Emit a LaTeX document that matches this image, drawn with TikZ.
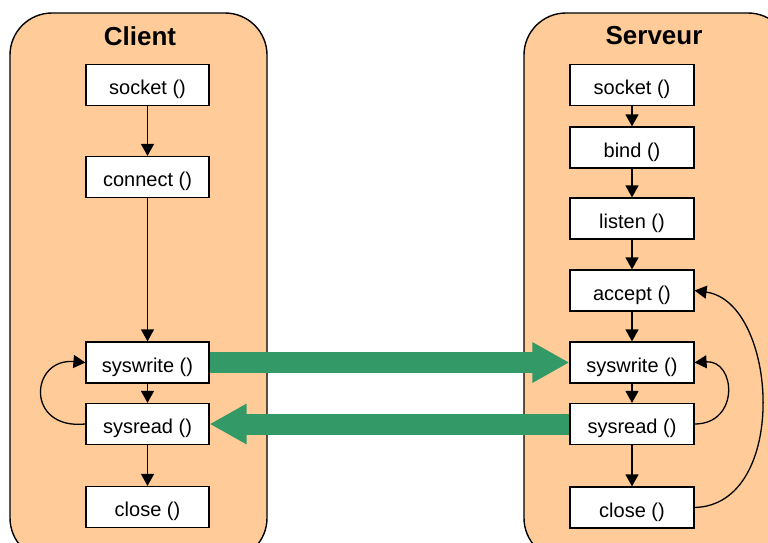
\documentclass[tikz,border=0pt]{standalone}
\usepackage{fontspec}
\setmainfont{Liberation Sans}
\usetikzlibrary{arrows.meta}
\definecolor{peach}{RGB}{255,204,153}
\definecolor{flowgreen}{RGB}{51,153,102}
\begin{document}
\begin{tikzpicture}[x=1pt,y=-1pt,
  lane/.style={draw=black,line width=1.4pt,fill=peach,rounded corners=42pt},
  title/.style={font=\fontsize{26}{30}\selectfont\bfseries},
  call/.style={draw=black,line width=1.2pt,fill=white,minimum height=41pt,
    inner sep=0pt,text height=19pt,text depth=0pt,font=\fontsize{20}{24}\selectfont},
  cbox/.style={call,minimum width=123pt},
  sbox/.style={call,minimum width=124pt},
  arr/.style={line width=1.3pt,-{Triangle[length=12pt,width=13pt]}},
  bigarr/.style={draw=flowgreen,line width=21pt,-{Triangle[length=37pt,width=38pt]}}]
\useasboundingbox (0,0) rectangle (768,542);
\clip (0,0) rectangle (768,542);

% lanes
\path[lane] (10,13) rectangle (267,560);
\path[lane] (524,13) rectangle (790,560);
\node[title] (tc) at (140,36) {Client};
\node[title] (ts) at (654,36) {Serveur};

% client calls
\node[cbox] (csock) at (147.5,85)  {socket ()};
\node[cbox] (cconn) at (147.5,177) {connect ()};
\node[cbox] (cwr)   at (147.5,362.5) {syswrite ()};
\node[cbox] (crd)   at (147.5,424) {sysread ()};
\node[cbox] (ccl)   at (147.5,507) {close ()};

% server calls
\node[sbox] (ssock) at (632,85)    {socket ()};
\node[sbox] (sbind) at (632,147.5) {bind ()};
\node[sbox] (slist) at (632,218.5) {listen ()};
\node[sbox] (sacc)  at (632,290.5) {accept ()};
\node[sbox] (swr)   at (632,362.5) {syswrite ()};
\node[sbox] (srd)   at (632,424)   {sysread ()};
\node[sbox] (scl)   at (632,507.5) {close ()};

% client flow
\draw[arr] (csock) -- (cconn);
\draw[arr] (cconn) -- (cwr);
\draw[arr] (cwr) -- (crd);
\draw[arr] (crd) -- (ccl);
\draw[arr] (crd.west) .. controls (25,430) and (30,358) .. (cwr.west);

% server flow
\draw[arr] (ssock) -- (sbind);
\draw[arr] (sbind) -- (slist);
\draw[arr] (slist) -- (sacc);
\draw[arr] (sacc) -- (swr);
\draw[arr] (swr) -- (srd);
\draw[arr] (srd) -- (scl);
\draw[arr] (srd.east) .. controls (740,424) and (736,360) .. (swr.east);
\draw[arr] (scl.east) .. controls (790,505) and (778,302) .. (sacc.east);

% data exchange
\draw[bigarr] (cwr.east) -- (swr.west);
\draw[bigarr] (srd.west) -- (crd.east);
\end{tikzpicture}
\end{document}
